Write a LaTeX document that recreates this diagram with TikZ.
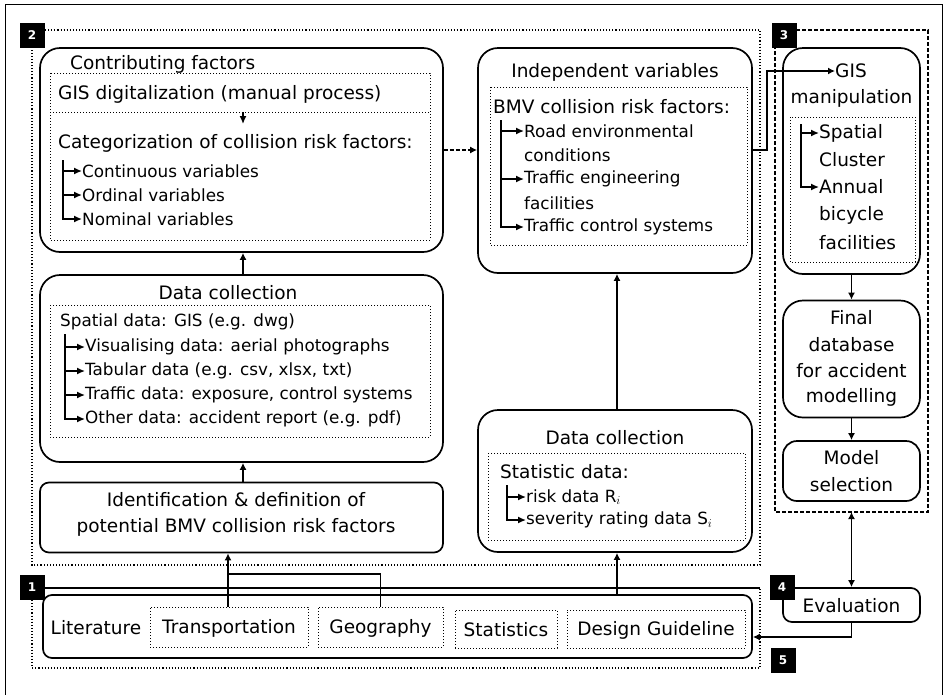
\documentclass[tikz,border=0pt]{standalone}
\usepackage{fontspec}
\setmainfont{DejaVu Sans}
\usetikzlibrary{arrows.meta,calc}
\begin{document}
\begin{tikzpicture}[x=1pt,y=-1pt,
  box/.style={draw,line width=1.7pt,rounded corners=20pt,inner sep=0pt},
  sbox/.style={draw,line width=1.7pt,rounded corners=9pt,inner sep=0pt},
  inner/.style={draw,line width=1pt,dotted},
  region/.style={draw,line width=1.1pt,dotted},
  dregion/.style={draw,line width=1.1pt,dashed,dash pattern=on 4pt off 2pt},
  txt/.style={font=\fontsize{18.5}{22}\selectfont,inner sep=0pt,anchor=west},
  ctxt/.style={font=\fontsize{18.5}{22}\selectfont,inner sep=0pt},
  stxt/.style={font=\fontsize{16.8}{20}\selectfont,inner sep=0pt,anchor=west},
  badge/.style={fill=black,text=white,font=\bfseries\fontsize{12}{12}\selectfont,minimum size=25pt,inner sep=0pt},
  arr/.style={-{Latex[length=7pt,width=7pt]},line width=1.4pt},
  darr/.style={{Latex[length=7pt,width=7pt]}-{Latex[length=7pt,width=7pt]},line width=1.4pt},
  tree/.style={-{Latex[length=8pt,width=7pt]},line width=1.4pt}
]
\useasboundingbox (0,0) rectangle (951,694);
% outer frame
\draw[line width=0.8pt] (5,700) -- (5,4) -- (942,4) -- (942,700);

% regions
\draw[region] (45,30) -- (760,30) -- (760,565) -- (32,565) -- (32,48);
\draw[dregion] (796,30) -- (928,30) -- (928,512) -- (775,512) -- (775,48);
\draw[line width=1.3pt] (45,588) -- (760,588);
\draw[region] (32,600) -- (32,668) -- (760,668) -- (760,588);

% badges
\node[badge] (b1) at (32,35) {2};
\node[badge] (b4) at (784,35) {3};
\node[badge] (b2) at (32,587) {1};
\node[badge] (b5) at (782,587) {4};
\node[badge] (b3) at (783,660) {5};

% ---------- Contributing factors ----------
\node[box,minimum width=403pt,minimum height=204pt] (cf) at (241.5,150) {};
\draw[inner] (50,73) rectangle (430,240);
\draw[inner] (50,112) -- (430,112);
\node[txt] (cft) at (70,64) {Contributing factors};
\node[txt] (cfg) at (58,94) {GIS digitalization (manual process)};
\node[txt] (cfc) at (58,143) {Categorization of collision risk factors:};
\coordinate (cfa) at (243,112);
\coordinate (cfb) at (243,124);
\draw[tree] (cfa) -- (cfb);
\node[stxt] (cf1) at (82,171) {Continuous variables};
\node[stxt] (cf2) at (82,195) {Ordinal variables};
\node[stxt] (cf3) at (82,219) {Nominal variables};
\coordinate (cft0) at (63,160);
\draw[tree] (cft0) |- (cf1.west);
\draw[tree] (cft0) |- (cf2.west);
\draw[tree] (cft0) |- (cf3.west);

% ---------- Data collection (left) ----------
\node[box,minimum width=403pt,minimum height=187pt] (dcl) at (241.5,368.5) {};
\draw[inner] (50,305) rectangle (430,437);
\node[ctxt] (dclt) at (228,293) {Data collection};
\node[stxt] (dcls) at (60,322) {Spatial data: GIS (e.g. dwg)};
\node[stxt] (dcl1) at (85,347) {Visualising data: aerial photographs};
\node[stxt] (dcl2) at (85,371) {Tabular data (e.g. csv, xlsx, txt)};
\node[stxt] (dcl3) at (85,395) {Traffic data: exposure, control systems};
\node[stxt] (dcl4) at (85,419) {Other data: accident report (e.g. pdf)};
\coordinate (dclt0) at (65,334);
\draw[tree] (dclt0) |- (dcl1.west);
\draw[tree] (dclt0) |- (dcl2.west);
\draw[tree] (dclt0) |- (dcl3.west);
\draw[tree] (dclt0) |- (dcl4.west);

% ---------- Identification ----------
\node[sbox,minimum width=403pt,minimum height=70pt] (idf) at (241.5,517.5) {};
\node[ctxt] (idf1) at (236,500) {Identification \& definition of};
\node[ctxt] (idf2) at (236,527) {potential BMV collision risk factors};

% ---------- Independent variables ----------
\node[box,minimum width=274pt,minimum height=225pt] (iv) at (615,160.5) {};
\draw[inner] (490,87) rectangle (747,245);
\node[ctxt] (ivt) at (615,72) {Independent variables};
\node[txt] (ivb) at (493,107) {BMV collision risk factors:};
\node[stxt] (iv1) at (524,131) {Road environmental};
\node[stxt] (iv1b) at (524,155) {conditions};
\node[stxt] (iv2) at (524,179) {Traffic engineering};
\node[stxt] (iv2b) at (524,203) {facilities};
\node[stxt] (iv3) at (524,227) {Traffic control systems};
\coordinate (ivt0) at (501,120);
\draw[tree] (ivt0) |- (iv1.west);
\draw[tree] (ivt0) |- (iv2.west);
\draw[tree] (ivt0) |- (iv3.west);

% ---------- Data collection (right) ----------
\node[box,minimum width=274pt,minimum height=142pt] (dcr) at (615,481) {};
\draw[inner] (488,453) rectangle (745,540);
\node[ctxt] (dcrt) at (615,438) {Data collection};
\node[txt] (dcrs) at (500,472) {Statistic data:};
\node[stxt] (dcr1) at (526,497) {risk data R$_i$};
\node[stxt] (dcr2) at (526,520) {severity rating data S$_i$};
\coordinate (dcrt0) at (507,485);
\draw[tree] (dcrt0) |- (dcr1.west);
\draw[tree] (dcrt0) |- (dcr2.west);

% ---------- GIS manipulation ----------
\node[box,minimum width=137pt,minimum height=226pt] (gis) at (851.5,161) {};
\draw[inner] (790,117) rectangle (915,262);
\node[txt] (gisa) at (835,71) {GIS};
\node[ctxt] (gisb) at (851.5,98) {manipulation};
\node[txt] (gis1) at (819,133) {Spatial};
\node[txt] (gis1b) at (819,160) {Cluster};
\node[txt] (gis2) at (819,187) {Annual};
\node[txt] (gis2b) at (819,215) {bicycle};
\node[txt] (gis2c) at (819,243) {facilities};
\coordinate (gist0) at (801,124);
\draw[tree] (gist0) |- (gis1.west);
\draw[tree] (gist0) |- (gis2.west);

% ---------- Final database ----------
\node[box,minimum width=137pt,minimum height=117pt] (fdb) at (851.5,359) {};
\node[ctxt] (fdb1) at (851.5,318) {Final};
\node[ctxt] (fdb2) at (851.5,345) {database};
\node[ctxt] (fdb3) at (851.5,371) {for accident};
\node[ctxt] (fdb4) at (851.5,397) {modelling};

% ---------- Model selection ----------
\node[box,rounded corners=14pt,minimum width=137pt,minimum height=60pt] (ms) at (851.5,471) {};
\node[ctxt] (ms1) at (851.5,458) {Model};
\node[ctxt] (ms2) at (851.5,485) {selection};

% ---------- Evaluation ----------
\node[sbox,minimum width=137pt,minimum height=34pt] (ev) at (851.5,605) {};
\node[ctxt] (ev1) at (851.5,606) {Evaluation};

% ---------- Literature box ----------
\node[sbox,minimum width=709pt,minimum height=63pt] (lit) at (397.5,626.5) {};
\node[ctxt] (lit1) at (96,628) {Literature};
\node[inner,minimum width=158pt,minimum height=40pt] (tr) at (229,627) {};
\node[ctxt] (tr1) at (229,628) {Transportation};
\node[inner,minimum width=125pt,minimum height=40pt] (geo) at (380.5,627) {};
\node[ctxt] (geo1) at (380.5,628) {Geography};
\node[inner,minimum width=102pt,minimum height=38pt] (st) at (506,629) {};
\node[ctxt] (st1) at (506,630) {Statistics};
\node[inner,minimum width=178pt,minimum height=38pt] (dg) at (656,629) {};
\node[ctxt] (dg1) at (656,630) {Design Guideline};

% ---------- connectors ----------
\draw[arr,dashed,dash pattern=on 4pt off 2pt] (cf.east |- 0,150) -- (iv.west |- 0,150);
\coordinate (ivr) at (767,150);
\draw[arr] (iv.east |- 0,150) -- (ivr) |- (gisa.west);
\draw[arr] (dcl.north -| 243,0) -- (cf.south -| 243,0);
\draw[arr] (idf.north -| 243,0) -- (dcl.south -| 243,0);
\coordinate (gj) at (228,574);
\draw[arr] (tr.north -| 228,0) -- (idf.south -| 228,0);
\draw[line width=1.3pt] (geo.north) -- (geo.north |- gj) -- (gj);
\draw[arr] (lit.north -| 617,0) -- (dcr.south -| 617,0);
\draw[arr] (dcr.north -| 617,0) -- (iv.south -| 617,0);
\draw[arr] (gis.south) -- (fdb.north);
\draw[arr] (fdb.south) -- (ms.north);
\coordinate (r4b) at (851.5,512);
\draw[darr] (r4b) -- (ev.north);
\coordinate (evd) at (851.5,637);
\draw[arr] (ev.south) -- (evd) -- (lit.east |- evd);
\end{tikzpicture}
\end{document}
